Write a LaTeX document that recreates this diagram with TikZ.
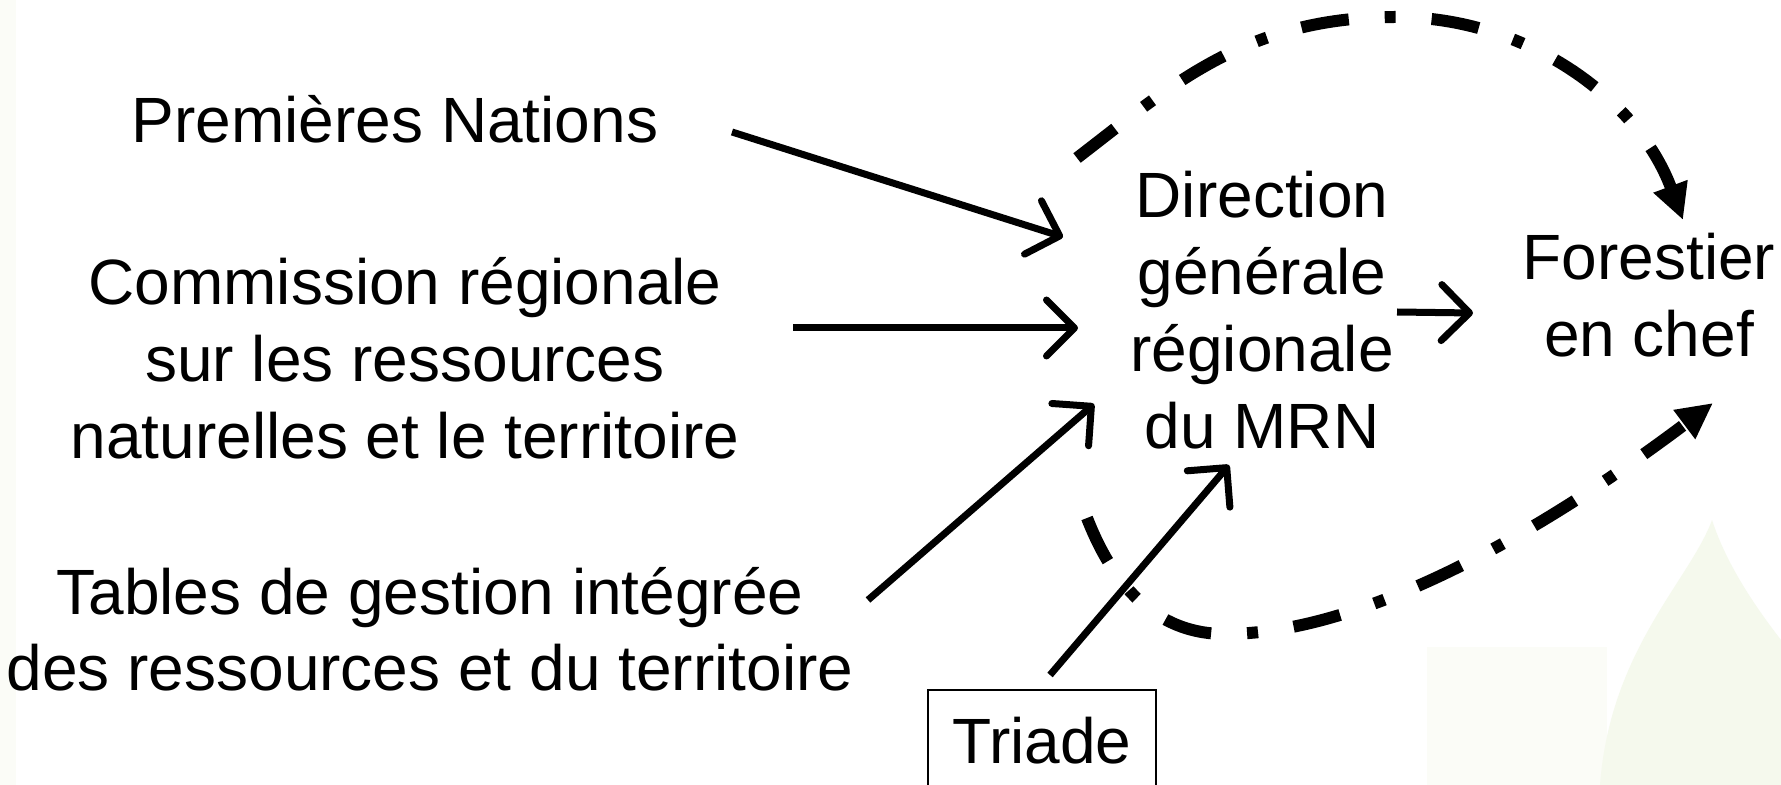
\documentclass[tikz,border=0pt]{standalone}
\usepackage{fontspec}
\setmainfont{Liberation Sans}
\usetikzlibrary{arrows.meta}
\definecolor{leaf}{RGB}{245,249,237}
\definecolor{leafpale}{RGB}{251,252,247}
\newcommand{\stack}[1]{\begin{tabular}[t]{@{}c@{}}#1\end{tabular}}
\begin{document}
\begin{tikzpicture}[x=0.5pt,y=-0.5pt,
  lbl/.style={font=\fontsize{32}{38.4}\selectfont, inner sep=0pt, anchor=base},
  arr/.style={line width=3.5pt, line cap=butt, -{Straight Barb[length=14pt,width=28pt,round]}},
  dd/.style={line width=6pt, line cap=butt, dash pattern=on 24pt off 18pt on 5.5pt off 18pt, -{Triangle[length=18pt,width=17pt]}},
  boxed/.style={draw, line width=0.9pt, minimum width=114pt, text height=36.5pt, text depth=20pt}]
\useasboundingbox (0,0) rectangle (1781,785);
\fill[white] (0,0) rectangle (1781,785);
% faint background
\fill[leafpale] (0,0) rectangle (16,785);
\fill[leafpale] (1427,647) rectangle (1607,785);
\fill[leaf] (1712,520) .. controls (1690,580) and (1610,650) .. (1600,785) -- (1781,785) -- (1781,640) .. controls (1750,600) and (1725,560) .. (1712,520) -- cycle;

% nodes
\node[lbl] (pn) at (395,143) {Premières Nations};
\node[lbl] (crr) at (405,305) {\stack{Commission régionale\\sur les ressources\\naturelles et le territoire}};
\node[lbl] (tg) at (430,614) {\stack{Tables de gestion intégrée\\des ressources et du territoire}};
\node[lbl] (dir) at (1262,218) {\stack{Direction\\générale\\régionale\\du MRN}};
\node[lbl] (fc) at (1649,280) {\stack{Forestier\\en chef}};
\node[lbl, boxed] (tri) at (1042,763) {Triade};

% straight connectors
\draw[arr] ([shift={(337,-11)}]pn.base) -- ([shift={(-199,19)}]dir.base);
\draw[arr] ([shift={(388,23)}]crr.base) -- ([shift={(-184,110)}]dir.base);
\draw[arr] ([shift={(438,-14)}]tg.base) -- ([shift={(-168,186)}]dir.base);
\draw[arr] ([shift={(8,-88)}]tri.base) -- ([shift={(-33,247)}]dir.base);
\draw[arr] ([shift={(135,94)}]dir.base) -- ([shift={(-176,33)}]fc.base);

% dash-dot curved connectors
\draw[dd] ([shift={(-185,-60)}]dir.base) .. controls (1172,85) and (1246,17) .. (1396,17)
  .. controls (1526,17) and (1637.5,98) .. ([shift={(34,-60)}]fc.base);
\draw[dd] ([shift={(-175,300)}]dir.base) .. controls (1117,595) and (1163,634) .. (1225,634)
  .. controls (1345,634) and (1508,557) .. ([shift={(64,123)}]fc.base);
\end{tikzpicture}
\end{document}
